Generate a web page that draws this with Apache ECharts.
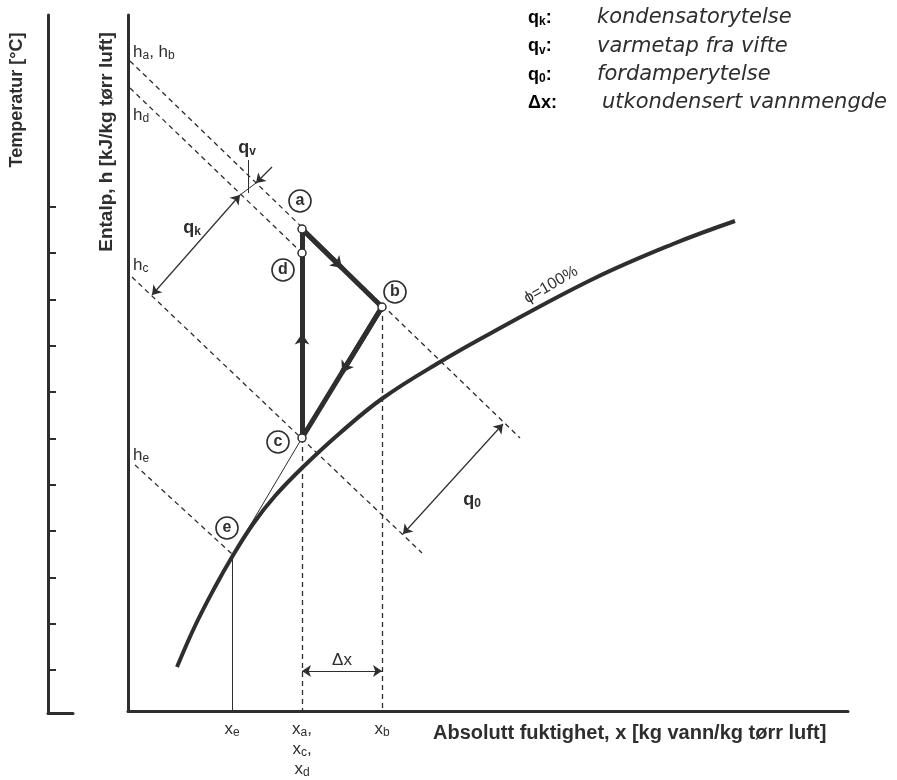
<!DOCTYPE html>
<html><head><meta charset="utf-8">
<script src="https://cdn.jsdelivr.net/npm/echarts@6/dist/echarts.min.js"></script>
<style>html,body{margin:0;padding:0;background:#fff}#c{width:897px;height:780px}</style>
</head><body><div id="c"></div>
<script>
// ---------- data (diagram units) ----------
const xRange = [0, 720];            // absolute humidity axis
const yRange = [0, 696];            // vertical axis (enthalpy chart)
const tempRange = [-4.64, 70.7];    // temperature axis
const tempTicks = [0, 5, 10, 15, 20, 25, 30, 35, 40, 45, 50];

const xTickValues = [104, 174, 254];
const xTickNames = ['e', 'acd', 'b'];

// saturation line phi = 100 %
const saturation = [[49,44],[67,85],[87,124],[104,154],[125,187],[147,215],[174,243],[212,278],[255,313],[312,349],[365,379],[465,432],[545,467],[607,490]];

// process states
const stateNames = ['a', 'b', 'c', 'd', 'e'];
const stateX = [174, 254, 174, 174, 104];
const stateY = [482, 404, 273, 458, 155];

// constant-enthalpy lines (dashed)
const enthalpyStart = [[2, 650], [2, 623], [4, 434], [7, 246]];
const enthalpyEnd   = [[392, 273], [174, 458], [294, 158], [104, 157]];

// dimension arrows
const qkArrow = [[24, 416], [112, 516]];
const qvArrow = [[144, 544], [128, 528]];
const qvLeader = [[120, 551], [120, 518]];
const q0Arrow = [[275, 177], [375, 287]];
const dxArrow = [[174, 40], [254, 40]];

// label anchors
const badgeX = [172, 267, 150, 155, 99];
const badgeY = [510, 419, 269, 441, 183];
const hLabelText = ['{m|h}{s|a}{m|, h}{s|b}', '{m|h}{s|d}', '{m|h}{s|c}', '{m|h}{s|e}'];
const hLabelPos = [[5, 659], [5, 596], [5, 446], [5, 256]];
const qLabelText = ['{b|q}{bs|v}', '{b|q}{bs|k}', '{b|q}{bs|0}'];
const qLabelPos = [[119, 563], [64, 483], [344, 211]];
const legendSym = ['{b|q}{bs|k}{b|:}', '{b|q}{bs|v}{b|:}', '{b|q}{bs|0}{b|:}', '{b|\u0394x:}'];
const legendText = ['kondensatorytelse', 'varmetap fra vifte', 'fordamperytelse', 'utkondensert vannmengde'];

// ---------- rendering ----------
const INK = '#2e2e2e';
const FONT = '"Liberation Sans", Arial, sans-serif';
const pt = i => [stateX[i], stateY[i]];
const A = pt(0), B = pt(1), C = pt(2), D = pt(3), E = pt(4);
const mid = (p, q) => [(p[0] + q[0]) / 2, (p[1] + q[1]) / 2];

const rich = {
  m: {fontSize: 17, fontFamily: FONT, color: INK, lineHeight: 20},
  s: {fontSize: 12, fontFamily: FONT, color: INK, lineHeight: 10, verticalAlign: 'bottom'},
  b: {fontSize: 18, fontFamily: FONT, fontWeight: 'bold', color: INK, lineHeight: 20},
  bs: {fontSize: 12, fontFamily: FONT, fontWeight: 'bold', color: INK, lineHeight: 10, verticalAlign: 'bottom'},
  v: {fontSize: 17, fontFamily: FONT, color: INK, lineHeight: 20},
  vs: {fontSize: 12, fontFamily: FONT, color: INK, lineHeight: 10, verticalAlign: 'bottom'}
};

const base = {coordinateSystem: 'cartesian2d', xAxisIndex: 0, yAxisIndex: 0, silent: true};
const textScatter = {type: 'scatter', xAxisIndex: 0, yAxisIndex: 0, z: 7, silent: true, symbolSize: 0, clip: false,
  itemStyle: {opacity: 1}};

const dashed = enthalpyStart.map((s, i) => ({coords: [s, enthalpyEnd[i]]}));
dashed.push({coords: [B, [B[0], 0]]});
dashed.push({coords: [C, [C[0], 0]]});

const option = {
  animation: false,
  backgroundColor: '#fff',
  grid: [
    {left: 128, top: 15, right: 49, bottom: 69},
    {left: 48, top: 15, width: 25, bottom: 67}
  ],
  xAxis: [
    {gridIndex: 0, type: 'value', min: xRange[0], max: xRange[1],
     axisLine: {onZero: false, lineStyle: {color: INK, width: 3}}, axisTick: {show: false}, splitLine: {show: false},
     axisLabel: {customValues: xTickValues, margin: 8, color: INK, verticalAlign: 'top',
       formatter: v => {
         const n = xTickNames[xTickValues.indexOf(v)] || '';
         if (n.length === 1) return '{v|x}{vs|' + n + '}';
         return n.split('').map((c, k) => '{v|x}{vs|' + c + '}' + (k < n.length - 1 ? '{v|,}' : '')).join('\n');
       }, rich: rich}},
    {gridIndex: 1, type: 'value', min: 0, max: 1, axisLine: {onZero: false, lineStyle: {color: INK, width: 3}},
     axisTick: {show: false}, axisLabel: {show: false}, splitLine: {show: false}}
  ],
  yAxis: [
    {gridIndex: 0, type: 'value', min: yRange[0], max: yRange[1],
     axisLine: {show: true, onZero: false, lineStyle: {color: INK, width: 3}}, axisTick: {show: false},
     axisLabel: {show: false}, splitLine: {show: false}},
    {gridIndex: 1, type: 'value', min: tempRange[0], max: tempRange[1],
     axisLine: {show: true, onZero: false, lineStyle: {color: INK, width: 3}},
     axisTick: {show: true, inside: true, length: 8, customValues: tempTicks, lineStyle: {color: INK, width: 2}},
     axisLabel: {show: false}, splitLine: {show: false}}
  ],
  graphic: [
    {type: 'text', x: 17, y: 100, rotation: Math.PI / 2,
     style: {text: 'Temperatur [\u00B0C]', align: 'center', verticalAlign: 'middle', font: 'bold 18px ' + FONT, fill: INK}},
    {type: 'text', x: 107, y: 142, rotation: Math.PI / 2,
     style: {text: 'Entalp, h [kJ/kg t\u00F8rr luft]', align: 'center', verticalAlign: 'middle', font: 'bold 19px ' + FONT, fill: INK}},
    {type: 'text', x: 433, y: 733,
     style: {text: 'Absolutt fuktighet, x [kg vann/kg t\u00F8rr luft]', align: 'left', verticalAlign: 'middle', font: 'bold 20px ' + FONT, fill: INK}}
  ].concat(legendSym.map((s, i) => ({type: 'text', x: 528, y: 18 + i * 28.3,
     style: {text: s, rich: rich, align: 'left', verticalAlign: 'middle'}})))
   .concat(legendText.map((s, i) => ({type: 'text', x: i === 3 ? 602 : 597, y: 18 + i * 28.3,
     style: {text: s, align: 'left', verticalAlign: 'middle', font: 'oblique 21px "DejaVu Sans", sans-serif', fill: INK}}))),
  series: [
    Object.assign({type: 'lines', z: 2, lineStyle: {color: INK, width: 1.3, type: [5, 4], opacity: 1}, data: dashed}, base),
    Object.assign({type: 'lines', z: 2, lineStyle: {color: INK, width: 1, opacity: 1},
      data: [{coords: [E, [E[0], 0]]}, {coords: [C, E]}, {coords: qvLeader}, {coords: [qkArrow[1], qvArrow[1]]}]}, base),
    {type: 'line', xAxisIndex: 0, yAxisIndex: 0, data: saturation, smooth: 0.4, showSymbol: false, silent: true, z: 3,
     lineStyle: {color: INK, width: 4}},
    Object.assign({type: 'lines', z: 4, lineStyle: {color: INK, width: 5, opacity: 1, cap: 'round', join: 'round'},
      data: [{coords: [A, B]}, {coords: [B, C]}, {coords: [C, A]}]}, base),
    Object.assign({type: 'lines', z: 5, symbol: ['none', 'arrow'], symbolSize: 11, lineStyle: {color: INK, width: 5, opacity: 1},
      data: [{coords: [A, mid(A, B)]}, {coords: [B, mid(B, C)]}, {coords: [C, mid(C, A)]}]}, base),
    Object.assign({type: 'lines', z: 5, symbol: ['arrow', 'arrow'], symbolSize: 9, lineStyle: {color: INK, width: 1.2, opacity: 1},
      data: [{coords: qkArrow}, {coords: q0Arrow}, {coords: dxArrow}]}, base),
    Object.assign({type: 'lines', z: 5, symbol: ['none', 'arrow'], symbolSize: 9, lineStyle: {color: INK, width: 1.2, opacity: 1},
      data: [{coords: qvArrow}]}, base),
    {type: 'scatter', xAxisIndex: 0, yAxisIndex: 0, z: 6, silent: true, symbolSize: 8,
     itemStyle: {color: '#fff', borderColor: INK, borderWidth: 1.5, opacity: 1},
     data: [A, B, C, D]},
    {type: 'scatter', xAxisIndex: 0, yAxisIndex: 0, z: 7, silent: true, symbolSize: 22,
     itemStyle: {color: '#fff', borderColor: INK, borderWidth: 1.6, opacity: 1},
     label: {show: true, position: 'inside', color: INK, fontFamily: FONT, fontWeight: 'bold', fontSize: 16,
       formatter: p => stateNames[p.dataIndex]},
     data: badgeX.map((x, i) => [x, badgeY[i]])},
    Object.assign({}, textScatter, {
     label: {show: true, position: 'right', distance: 0, rich: rich, formatter: p => hLabelText[p.dataIndex]},
     data: hLabelPos}),
    Object.assign({}, textScatter, {
     label: {show: true, position: 'inside', rich: rich, formatter: p => qLabelText[p.dataIndex]},
     data: qLabelPos}),
    Object.assign({}, textScatter, {
     label: {show: true, position: 'inside', color: INK, fontFamily: FONT, fontSize: 17, formatter: '\u0394x'},
     data: [[214, 51]]}),
    Object.assign({}, textScatter, {
     label: {show: true, position: 'inside', rotate: 30, color: INK, fontFamily: FONT, fontSize: 16, formatter: '\u03D5=100%'},
     data: [[423, 426]]})
  ]
};
echarts.init(document.getElementById('c'), null, {renderer: 'canvas'}).setOption(option);
</script></body></html>
